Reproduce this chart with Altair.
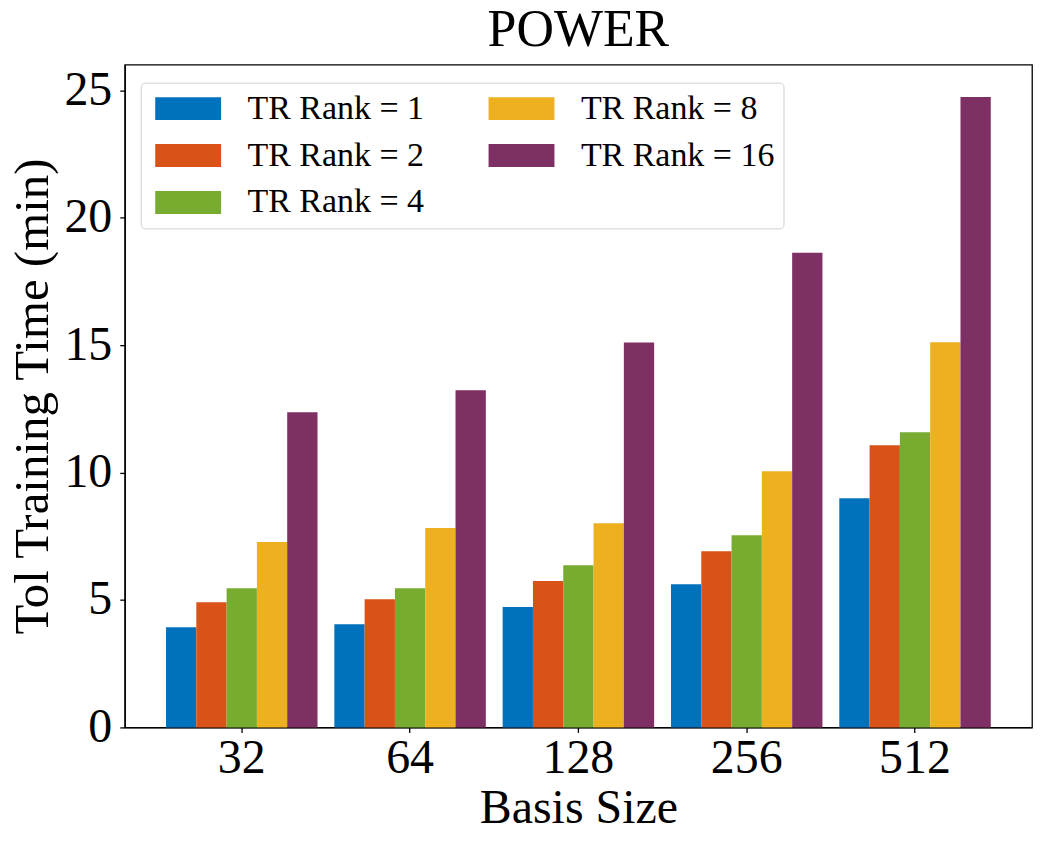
import altair as alt
import pandas as pd

basis_sizes = ["32", "64", "128", "256", "512"]
ranks = ["1", "2", "4", "8", "16"]
rank1 = [3.93, 4.05, 4.72, 5.62, 8.99]
rank2 = [4.91, 5.03, 5.74, 6.91, 11.07]
rank4 = [5.46, 5.46, 6.36, 7.54, 11.58]
rank8 = [7.27, 7.82, 8.01, 10.05, 15.11]
rank16 = [12.36, 13.23, 15.10, 18.62, 24.73]
colors = ["#0072BD", "#D95319", "#77AC30", "#EDB120", "#7E2F63"]

series = [rank1, rank2, rank4, rank8, rank16]
rows = []
for r, vals in zip(ranks, series):
    for b, v in zip(basis_sizes, vals):
        rows.append({"basis": b, "rank": r, "label": f"TR Rank = {r}", "time": v})
df = pd.DataFrame(rows)

labels = [f"TR Rank = {r}" for r in ranks]

FONT = "Liberation Serif"

chart = alt.Chart(df).mark_bar().encode(
    x=alt.X("basis:N", sort=basis_sizes, title="Basis Size",
            scale=alt.Scale(paddingInner=0.1, paddingOuter=0.245),
            axis=alt.Axis(labelAngle=0, labelFontSize=48, titleFontSize=48,
                          labelFont=FONT, titleFont=FONT, titleFontWeight="normal",
                          tickSize=5, labelPadding=2, titlePadding=2,
                          domainColor="black", tickColor="black",
                          domainWidth=1.3, tickWidth=1.3,
                          labelColor="black", titleColor="black")),
    xOffset=alt.XOffset("label:N", sort=labels,
                        scale=alt.Scale(domain=labels, paddingInner=0, paddingOuter=0)),
    y=alt.Y("time:Q", title="Tol Training Time (min)",
            scale=alt.Scale(domain=[0, 26], nice=False),
            axis=alt.Axis(values=[0, 5, 10, 15, 20, 25], grid=False,
                          labelFontSize=48, titleFontSize=49,
                          labelFont=FONT, titleFont=FONT, titleFontWeight="normal",
                          tickSize=5, labelPadding=8, titlePadding=6,
                          domainColor="black", tickColor="black",
                          domainWidth=1.3, tickWidth=1.3,
                          labelColor="black", titleColor="black")),
    color=alt.Color("label:N",
                    scale=alt.Scale(domain=labels, range=colors),
                    legend=alt.Legend(
                        title=None, orient="none", legendX=16, legendY=18,
                        columns=2, columnPadding=59, rowPadding=13,
                        symbolType="M-1,-1 L4.74,-1 L4.74,1 L-1,1 Z",
                        symbolSize=529, symbolStrokeWidth=0, symbolOpacity=1,
                        labelFontSize=34, labelFont=FONT, labelColor="black",
                        labelOffset=64, labelLimit=400,
                        padding=9, strokeColor="#d0d0d0", fillColor="white",
                        cornerRadius=4)),
).properties(
    width=909, height=664,
    title=alt.TitleParams("POWER", fontSize=52, font=FONT, fontWeight="normal",
                          color="black", offset=8),
    autosize=alt.AutoSizeParams(type="none"),
    padding={"left": 117, "top": 56, "right": 10, "bottom": 120},
    background="white",
).configure_view(
    stroke="black", strokeWidth=1.3
).configure_legend(
    labelFont=FONT
).configure_title(
    font=FONT
)

chart.save("out.html", embed_options={"renderer": "svg", "actions": False})
